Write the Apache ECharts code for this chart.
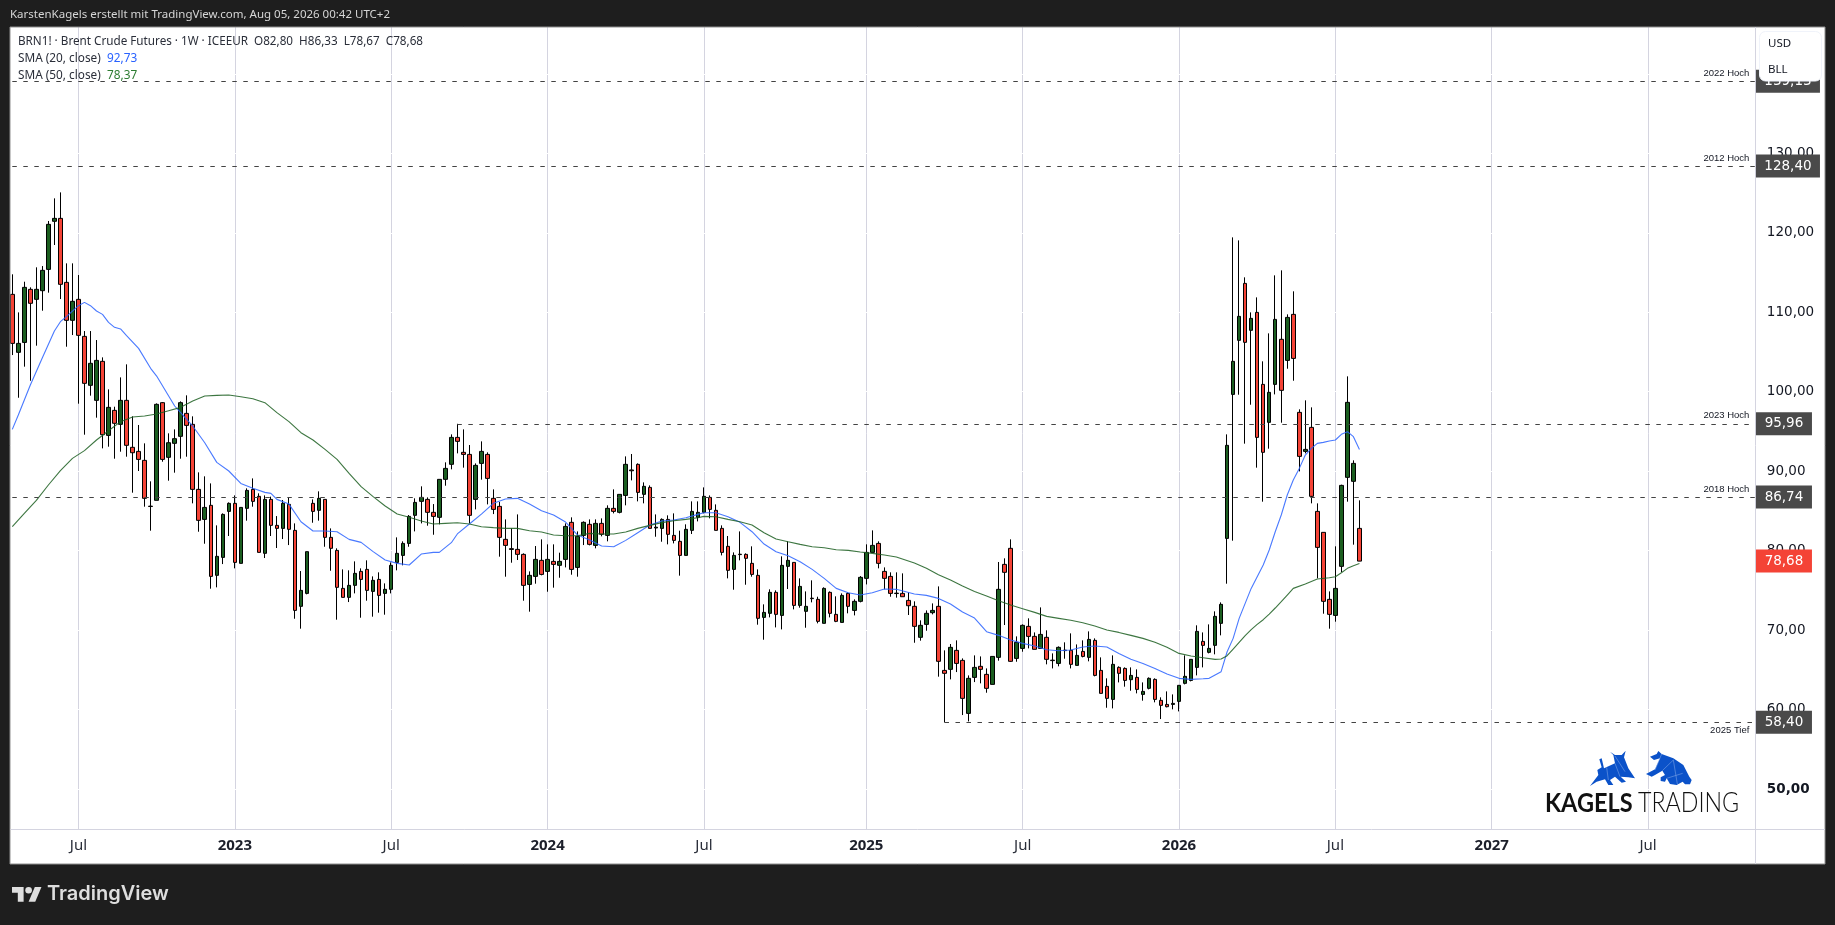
<!DOCTYPE html>
<html><head><meta charset="utf-8">
<style>html,body{margin:0;padding:0;background:#1e1e1e;overflow:hidden}#c{width:1835px;height:925px}</style>
<script src="https://cdn.jsdelivr.net/npm/echarts@6/dist/echarts.min.js"></script>
</head><body><div id="c"></div>
<script>
const opens=[112.25,104.95,106.2,112.88,111.62,112.71,115.39,121.44,121.81,113.76,108.98,111.62,106.96,100.8,98.91,103.82,94.5,97.65,95.89,98.91,93,92.49,91.36,85.6,86.33,98.62,91.74,93.5,94.38,97.27,95.89,87.71,83.93,85.7,76.89,79.15,84.94,85.95,78.4,85.32,87.71,86.83,79.66,86.45,83.18,82.8,85.82,82.55,72.99,74.62,85.95,85.07,86.45,81.67,80.03,75.25,74.12,75.63,77.39,77.64,74.87,76.38,74.62,75.13,78.52,79.4,80.91,84.44,86.2,86.45,84.82,84.19,88.97,90.86,94.25,92.37,92.11,86.45,90.98,92.11,86.58,85.57,81.42,80.25,80.16,79.53,75.75,76.76,78.78,77.39,78.65,78.15,78.9,83.56,77.89,81.92,83.31,80.66,83.43,81.92,85.32,84.82,86.95,90.15,90.86,87.08,87.96,82.85,82.8,83.93,81.92,81.17,79.4,82.55,84.19,84.82,86.7,85.07,82.8,80.54,77.64,79.55,79.53,78.4,76.89,71.6,72.11,74.75,71.85,78.02,78.52,73.11,72.36,74.02,73.87,70.85,74.75,71.98,70.97,74.62,72.48,73.62,76.51,79.78,80.91,77.39,76.76,74.65,74.62,73.74,72.99,69.09,70.72,72.19,72.99,64.93,65.06,67.45,66.19,59.52,64.05,65.44,64.43,63.17,66.57,78.27,80.29,66.44,67.7,70.47,69.21,67.7,69.09,66.22,65.81,67.48,67.45,65.56,67.32,66.57,68.71,64.93,62.92,61.28,65.31,65.18,63.76,64.05,61.91,62.67,63.8,61.16,60.65,60.65,61.03,63.3,63.67,65.31,68.58,67.2,68.08,70.85,81.54,99.66,106.46,113.63,107.72,109.98,100.92,96.14,100.92,106.59,103.94,109.73,97.4,92.49,95.51,84.94,82.3,73.87,71.85,78.02,89.22,88.72,82.8];
const highs=[114.77,109.98,113.84,113.13,115.65,115.81,121.48,124.33,125.08,116.15,116.15,114.68,107.63,107.63,106.5,104.32,100.29,98.11,101.8,103.44,96.9,95.81,93.5,88.72,98.53,98.7,94.76,95.26,98.78,99.54,96.9,89.85,89.35,88.46,83.18,84.69,86.07,86.95,85.44,87.84,89.09,87.21,86.95,86.79,84.35,86.37,86.7,83.43,77.43,79.87,86.45,87.46,86.45,82.8,80.29,77.64,77.52,78.65,77.77,78.78,76.76,77.27,75.88,78.52,81.67,81.17,84.48,86.58,88.09,86.7,85.86,88.97,91.11,94.63,95.96,95.26,93.29,90.98,93.75,92.37,87.71,86.12,83.93,82.8,84.56,79.66,77.39,80.58,81.42,80.79,80.79,79.74,83.43,84.19,82.42,83.68,83.93,83.93,84.06,85.7,87.71,87.08,91.86,92.16,90.98,88.59,88.21,84.56,84.06,84.44,84.69,82.51,83.31,86.2,86.2,87.96,86.95,85.82,83.18,81.84,79.78,82.42,79.66,80.54,77.64,73.24,75.13,75,79.28,81.17,78.52,76.51,74.87,76.26,74.2,75.38,74.87,74.25,74.62,74.75,73.87,76.8,80.79,82.55,81.17,77.89,77.27,77.27,77.14,74.75,73.62,71.23,72.48,73.36,75.5,67.45,68.25,68.71,66.44,64.3,66.82,66.69,65.18,66.69,78.57,79.03,81.42,69.21,70.72,71.48,69.71,72.86,69.97,67.07,67.95,68.46,69.59,68.2,68.71,69.84,68.96,66.57,63.93,66.82,65.44,65.31,65.31,65.06,63.42,64.05,63.93,61.54,62.29,61.91,63.05,66.82,66.32,70.6,69.71,70.72,72.36,73.49,94.63,119.42,119.04,114.39,109.98,111.87,103.82,107.34,114.64,115.27,109.73,112.63,97.78,98.91,98.03,85.95,82.3,74.87,80.54,88.3,101.93,91.36,86.33];
const lows=[104.61,99.24,103.15,101.38,105.79,110.19,112.46,118.46,111.66,105.66,107.13,98.49,94.59,99.5,96.73,92.87,93.08,91.57,92.45,91.82,87.29,90.02,85.53,82.51,86.33,91.19,88.8,89.81,91.57,91.82,85.95,82.38,80.87,75.21,75.38,78.31,81.84,77.77,78.4,83.77,85.53,79.78,79.07,81.84,80.33,81.46,80.7,71.43,70.18,74.5,83.51,83.77,80.49,77.47,71.31,74.12,73.53,74.62,71.56,73.7,71.69,72.19,71.94,74.62,77.52,78.15,80.49,82.42,83.43,83.14,82,83.31,88.17,90.23,92.24,90.44,83.43,85.19,88.93,85.82,84.6,79.24,76.72,78.48,78.82,73.7,72.32,75.84,76.89,74.83,75.34,76.59,77.89,76.97,76.72,80.7,80.66,80.29,81.8,81.17,84.69,84.69,85.7,88.84,86.2,85.95,82.8,81.75,81.12,80.79,80.91,76.85,79.4,82.09,83.68,84.69,84.06,82.55,79.4,76.51,75.08,78.78,75.71,76.72,70.68,68.79,71.6,70.34,70.09,75.17,72.61,72.82,70.3,73.49,70.85,70.85,71.6,71,70.97,72.11,71.85,73.49,75.75,79.78,77.77,75.13,74.2,74.08,74.2,71.9,68.41,68.67,69.92,71.98,64.14,58.39,63.8,64.72,59.31,58.51,63.46,63.3,62.12,63.17,66.15,70.64,66,66.02,67.28,67.7,67.58,67.7,65.69,65.18,65.44,66.4,65.18,65.56,66.57,66.07,64.18,62.04,60.23,60.15,63.42,62.88,62.37,62.04,61.12,62.54,60.91,58.81,60.28,60.03,59.77,63.17,63.55,64.3,65.31,67.07,66.95,69.34,75.84,81.25,99.62,93.46,98.36,90.44,86.16,92.83,99.66,96.1,102.89,101.38,89.97,92.24,85.95,76.51,72.06,70.18,71.06,77.31,86.16,80.75,78.67];
const closes=[106.08,106.08,113.13,111.12,112.88,115.27,121.06,121.81,113.51,108.98,111.37,107.09,101.05,103.57,103.94,94.59,98.03,96.02,98.91,93.25,92.32,91.48,86.58,85.55,98.41,91.48,93.58,94.09,98.62,95.76,87.71,83.81,85.44,76.76,79.28,84.56,85.95,78.52,85.44,87.58,86.2,79.78,86.45,83.18,82.8,85.95,82.68,72.48,75,79.87,84.94,86.58,81.67,80.29,75.38,74.12,75.63,77.14,76.38,75,76.26,74.37,75.13,78.15,79.66,80.91,84.31,86.07,86.7,84.82,84.31,88.97,90.35,94.25,93.75,92.11,84.44,90.73,92.49,89.09,85.19,81.67,80.66,80.15,79.53,75.63,76.89,78.9,77.01,78.9,78.27,78.65,83.05,77.64,81.8,83.56,80.79,83.43,82.05,85.32,84.94,87.08,90.86,90.05,87.33,88.09,82.8,82.95,83.93,82.05,81.29,79.4,82.68,84.94,84.82,86.83,85.19,82.55,79.78,77.52,79.4,79.5,79.03,77.01,71.48,72.23,74.75,71.98,78.15,78.78,73.11,75.5,72.99,73.96,71.1,75.25,72.11,71.1,74.37,72.99,73.62,76.64,79.78,80.66,78.4,76.51,74.62,74.6,74.2,73.07,70.47,70.6,72.11,72.48,66.07,64.56,67.83,65.81,61.41,63.93,65.31,65.06,62.67,66.69,75.13,77.27,66.07,68.46,70.6,69.21,67.58,69.46,66.32,66.16,67.83,67.42,65.69,66.82,66.69,68.83,64.3,62.04,61.41,65.69,64.56,63.67,64.3,62.54,62.29,63.93,61.28,60.53,60.36,60.78,63.05,64.18,66.32,69.84,68.08,67.7,71.73,73.24,93.25,103.82,109.48,106.21,109.23,94.25,92.37,99.92,109.1,100.17,109.35,104.19,91.86,92.74,86.83,80.41,73.62,71.98,75.25,88.21,98.66,90.98,78.68];
const sma20Points=[[0,95.26],[1,97.06],[3,100.84],[5,104.28],[7,107.63],[8,108.81],[9,109.44],[11,110.82],[12,111.24],[13,110.82],[14,110.15],[15,109.73],[16,108.72],[17,108.1],[18,107.89],[19,107.05],[21,105.45],[23,102.94],[24,101.97],[26,99.45],[27,98.2],[28,97.36],[30,95.68],[32,93.58],[34,91.11],[36,90.02],[38,88.46],[40,87.84],[42,87.33],[43,87.21],[44,86.45],[46,85.86],[48,83.64],[50,82.47],[52,82.47],[54,82.38],[56,81.42],[58,81.04],[60,79.87],[62,78.82],[64,78.4],[66,78.19],[68,79.57],[70,79.78],[71,79.78],[73,81],[74,82.1],[76,83.35],[78,84.6],[80,85.95],[82,86.49],[84,86.58],[86,85.86],[88,85.03],[90,84.48],[92,83.6],[94,81.96],[96,81.33],[98,80.58],[100,80.49],[102,81.29],[104,82.26],[106,83.22],[108,83.72],[110,83.85],[112,84.14],[114,84.56],[115,84.77],[117,84.77],[119,84.27],[121,83.56],[123,82.38],[125,80.83],[127,79.87],[129,79.36],[131,78.61],[133,77.64],[135,76.51],[137,75.25],[139,74.71],[141,74.41],[143,74.71],[145,75.17],[147,75.13],[150,74.54],[152,74.37],[154,73.99],[156,73.28],[158,72.27],[160,71.52],[162,69.8],[164,69.34],[166,68.75],[168,68.33],[170,68],[172,67.53],[174,67.41],[176,67.49],[178,67.87],[180,68],[182,67.87],[184,67.07],[186,66.32],[188,65.81],[190,65.18],[192,64.47],[194,63.93],[196,63.8],[198,63.88],[199,63.93],[200,64.35],[201,64.77],[202,67.28],[203,68.96],[204,71.48],[205,73.36],[206,75.25],[207,76.72],[208,78.19],[209,80.08],[210,82.38],[211,84.48],[212,87],[213,88.88],[214,90.35],[215,92.03],[216,92.87],[217,93.5],[218,93.62],[219,93.79],[220,93.92],[221,94.63],[222,94.97],[223,94.34],[224,92.73]];
const sma50Points=[[0,83.01],[2,84.69],[4,86.33],[6,88.26],[8,90.06],[10,91.61],[12,92.58],[14,93.92],[16,95.09],[18,96.23],[20,96.81],[22,96.94],[24,97.19],[26,97.61],[28,98.03],[30,98.83],[32,99.45],[34,99.54],[36,99.58],[38,99.37],[40,99.12],[42,98.62],[44,97.36],[46,96.23],[48,94.84],[50,93.92],[52,92.74],[54,91.48],[56,89.72],[58,88.05],[60,86.79],[62,85.61],[64,84.6],[66,84.19],[68,83.72],[70,83.35],[72,83.43],[74,83.5],[76,83.35],[78,83.01],[80,82.89],[82,82.8],[84,82.8],[86,82.51],[88,82.34],[90,81.96],[92,81.88],[94,81.88],[96,82.17],[98,82.09],[100,82.09],[102,82.34],[104,82.8],[106,83.18],[108,83.52],[110,83.77],[112,83.93],[114,84.14],[115,84.31],[117,84.27],[119,83.93],[121,83.64],[123,83.22],[125,82.26],[127,81.46],[129,81.12],[131,80.79],[133,80.49],[135,80.37],[137,80.12],[139,80.03],[141,79.82],[143,79.66],[145,79.45],[147,79.2],[150,78.44],[152,77.77],[154,76.97],[156,76.3],[158,75.54],[160,74.87],[162,74.29],[164,73.7],[166,73.15],[168,72.69],[170,72.23],[172,71.73],[174,71.48],[176,71.23],[178,70.93],[180,70.51],[182,70.01],[184,69.71],[186,69.34],[188,68.96],[190,68.46],[192,67.83],[194,67.07],[196,66.74],[198,66.53],[200,66.32],[201,66.36],[202,66.78],[203,67.62],[204,68.46],[205,69.3],[206,70.05],[207,70.72],[208,71.31],[209,72.02],[210,72.78],[211,73.57],[212,74.41],[213,75.25],[215,75.8],[217,76.43],[219,76.59],[220,76.72],[221,77.22],[222,77.77],[223,78.1],[224,78.37]];
const tickLabels={'2022-07-04':'Jul','2023-01-02':'2023','2023-07-03':'Jul','2024-01-01':'2024','2024-07-01':'Jul','2025-01-06':'2025','2025-07-07':'Jul','2026-01-05':'2026','2026-07-06':'Jul','2027-01-04':'2027','2027-07-05':'Jul'};
const levelNames=['2022 Hoch','2012 Hoch','2023 Hoch','2018 Hoch','2025 Tief'];
const levelValues=[139.06,128.40,95.96,86.74,58.40];
const levelStarts=[0,0,74,0,155];
const priceTagTexts=['139,13','128,40','95,96','86,74','58,40'];
const lastPrice=78.68, lastPriceText='78,68';

const weeksOnAxis=291, firstWeek=Date.UTC(2022,3,18);
const categories=[];
for(let w=0;w<weeksOnAxis;w++)categories.push(new Date(firstWeek+w*7*864e5).toISOString().slice(0,10));
const candles=opens.map((o,i)=>[o,closes[i],lows[i],highs[i]]);
const lastIdx=weeksOnAxis-1;
const PX=6.014, UNIT=7.947;
const F='"DejaVu Sans",sans-serif';

const chart=echarts.init(document.getElementById('c'),null,{renderer:'canvas'});
const isTick=(i,v)=>tickLabels[v]!==undefined;
const txt=(x,y,t,font,fill,extra)=>({type:'text',z:20,x,y,style:Object.assign({text:t,font,fill,textVerticalAlign:'middle'},extra||{})});
const rect=(x,y,w,h,fill,z)=>({type:'rect',z:z||10,shape:{x,y,width:w,height:h},style:{fill},silent:true});
const line=(x1,y1,x2,y2,st,z)=>({type:'line',z:z||11,shape:{x1,y1,x2,y2},style:{stroke:st,lineWidth:1}});

const bull=[[270,318],[295,285],[292,270],[305,262],[298,238],[305,235],[312,265],[345,250],[340,225],[330,215],[345,225],[365,225],[377,212],[372,232],[385,265],[405,295],[385,292],[362,290],[378,305],[365,308],[345,290],[330,300],[340,315],[325,315],[315,298],[290,305]];
const bear=[[438,282],[465,268],[480,235],[462,240],[450,230],[470,222],[475,213],[485,222],[520,235],[550,255],[568,290],[575,300],[570,313],[555,313],[548,305],[530,315],[510,312],[500,295],[495,305],[482,303],[482,292],[495,285],[487,272],[465,285],[455,290]];
const logoFacets=[[[320,262],[325,300]],[[345,228],[375,275]],[[345,250],[360,290]],[[485,222],[465,270]],[[487,272],[520,240]],[[520,240],[532,312]],[[500,295],[548,280]]];
const logoT={x:1500,y:680,scaleX:1/3,scaleY:1/3};
const tvT={x:12,y:883.6,scaleX:.83,scaleY:.83};

const graphic=[
 rect(0,0,1835,27,'#1e1e1e'),rect(0,864,1835,61,'#1e1e1e'),rect(0,0,10,925,'#1e1e1e'),rect(1825,0,10,925,'#1e1e1e'),
 rect(10,829,1815,35,'#ffffff'),
 {type:'rect',z:11,shape:{x:10,y:27,width:1815,height:837},style:{fill:null,stroke:'#8f8f8f',lineWidth:1}},
 line(10.5,829.5,1825,829.5,'#d4d4e0'),line(1755.5,27,1755.5,864,'#d4d4e0'),
 txt(10,15,'KarstenKagels erstellt mit TradingView.com, Aug 05, 2026 00:42 UTC+2','11.5px "Noto Sans"','#d6d6d6'),
 txt(18,41.5,'BRN1! · Brent Crude Futures · 1W · ICEEUR  O82,80  H86,33  L78,67  C78,68','11.7px "Noto Sans"','#2a2e39'),
 txt(18,59,'SMA (20, close)','11.8px "Noto Sans"','#2a2e39'),
 txt(107,59,'92,73','11.8px "Noto Sans"','#2962ff'),
 txt(18,76,'SMA (50, close)','11.8px "Noto Sans"','#2a2e39'),
 txt(107,76,'78,37','11.8px "Noto Sans"','#2e7d32'),
 {type:'rect',z:30,shape:{x:1759.5,y:31.5,width:62,height:49.5,r:6},style:{fill:'#fff',stroke:'#f0f3fa',lineWidth:1}},
 Object.assign(txt(1768,43.5,'USD','11.5px "Noto Sans"','#131722'),{z:31}),
 Object.assign(txt(1768,69.5,'BLL','11.5px "Noto Sans"','#131722'),{z:31}),
 Object.assign({type:'polygon',z:20,shape:{points:bull},style:{fill:'#0b52c9'}},logoT),
 Object.assign({type:'polygon',z:20,shape:{points:bear},style:{fill:'#0b52c9'}},logoT),
 ...logoFacets.map(f=>Object.assign({type:'polyline',z:21,shape:{points:f},style:{fill:null,stroke:'#8fb0ea',lineWidth:1.5}},logoT)),
 Object.assign(txt(1545,803,'KAGELS','700 27px "Lato"','#111111'),{scaleX:.87}),
 Object.assign(txt(1638,803,'TRADING','300 27px "Lato"','#111111'),{scaleX:.86}),
 Object.assign({type:'polygon',z:20,shape:{points:[[0,4],[14,4],[14,22],[7,22],[7,11],[0,11]]},style:{fill:'#dedede'}},tvT),
 Object.assign({type:'polygon',z:20,shape:{points:[[20,22],[27.5,4],[35.5,4],[28,22]]},style:{fill:'#dedede'}},tvT),
 Object.assign({type:'circle',z:20,shape:{cx:20,cy:8,r:4},style:{fill:'#dedede'}},tvT),
 txt(47,894,'TradingView','600 20px "Inter"','#dedede')
];

const tagItem=(value,text,color)=>{
 const w=text.length>5?64:56;
 return {value:[lastIdx,value],symbolSize:[w,23],symbolOffset:[w/2-0.4,0],
  itemStyle:{color,opacity:1},label:{show:true,position:'inside',formatter:text,color:'#fff',fontFamily:F,fontSize:13.5}};
};

chart.setOption({
 animation:false,backgroundColor:'#ffffff',tooltip:{show:false},
 grid:{left:12.3,width:PX*(weeksOnAxis-1),top:166-(150-128.4)*UNIT,height:110*UNIT,containLabel:false,outerBoundsMode:'none'},
 xAxis:[
  {type:'category',position:'bottom',data:categories,boundaryGap:false,axisLine:{show:false},axisTick:{show:false},axisLabel:{show:false},
   splitLine:{show:true,interval:isTick,lineStyle:{color:'#d4d4e0',width:1}},z:0},
  {type:'category',position:'bottom',data:categories,boundaryGap:false,offset:-39.5,axisLine:{show:false},axisTick:{show:false},splitLine:{show:false},z:15,
   axisLabel:{show:true,interval:isTick,margin:9,hideOverlap:false,formatter:v=>{const t=tickLabels[v]||'';return t==='Jul'?t:(t?'{y|'+t+'}':'');},fontFamily:'"Noto Sans"',fontSize:15,color:'#2a2e39',rich:{y:{fontFamily:'"Noto Sans"',fontSize:15,fontWeight:700,color:'#1c1f2a'}}}}
 ],
 yAxis:{type:'value',position:'right',min:40,max:150,interval:10,offset:0,z:1,
  axisLine:{show:false},axisTick:{show:false},splitLine:{show:true,lineStyle:{color:'#ffffff',width:1}},
  axisLabel:{margin:10.5,fontFamily:F,fontSize:13.5,color:'#131722',showMinLabel:false,showMaxLabel:false,
   formatter:v=>{if(v<50||v>140)return '';const s=v.toFixed(2).replace('.',',');return v===50?'{b|'+s+'}':s;},
   rich:{b:{fontFamily:F,fontSize:13.5,fontWeight:700,color:'#131722'}}}},
 series:[
  {type:'candlestick',name:'BRN1!',data:candles,xAxisIndex:0,barWidth:4,clip:false,z:3,
   itemStyle:{color:'#1b5e20',color0:'#f44336',borderColor:'#000',borderColor0:'#000',borderColorDoji:'#000',borderWidth:1},
   markLine:{silent:true,symbol:'none',animation:false,precision:2,
    lineStyle:{type:[4.5,6.5],color:'#434343',width:1},
    data:levelNames.map((n,i)=>[
     {coord:[levelStarts[i],levelValues[i]],label:{show:true,formatter:n,position:n.indexOf('Tief')>=0?'insideEndBottom':'insideEndTop',distance:[7,3],fontFamily:'"Liberation Sans"',fontSize:9.5,color:'#131722'}},
     {coord:[lastIdx,levelValues[i]]}])}},
  {type:'line',name:'SMA (20, close)',data:sma20Points,xAxisIndex:0,showSymbol:false,symbol:'none',z:4,lineStyle:{color:'#2962ff',width:1.1,opacity:.85}},
  {type:'line',name:'SMA (50, close)',data:sma50Points,xAxisIndex:0,showSymbol:false,symbol:'none',z:4,lineStyle:{color:'#1b5e20',width:1.1,opacity:.85}},
  {type:'scatter',name:'price tags',clip:false,silent:true,xAxisIndex:0,z:12,symbol:'rect',
   data:levelValues.map((v,i)=>tagItem(v,priceTagTexts[i],'#4a4a4a')).concat([tagItem(lastPrice,lastPriceText,'#f44336')])}
 ],
 graphic
});
</script></body></html>
